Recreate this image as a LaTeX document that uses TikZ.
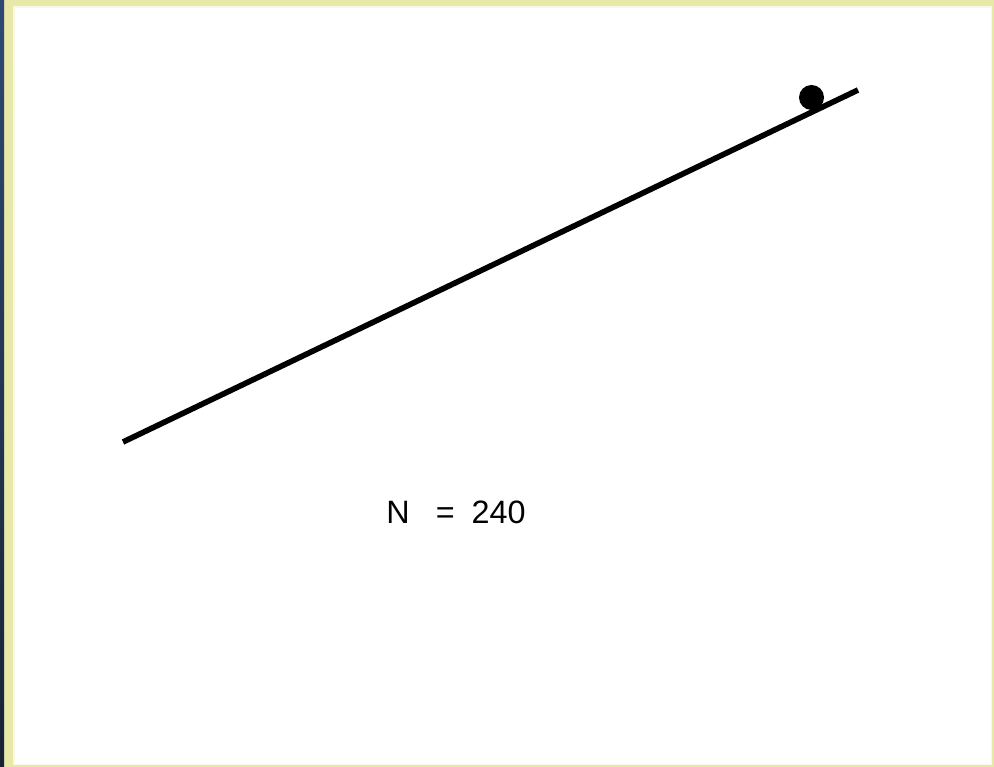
\documentclass[tikz,border=0pt]{standalone}
\usepackage{fontspec}
\setmainfont{Liberation Sans}
\usetikzlibrary{positioning}
\definecolor{frameyellow}{HTML}{E8E8A8}
\definecolor{stripblue}{HTML}{2E4A72}
\definecolor{stripdark}{HTML}{172236}

\begin{document}
\begin{tikzpicture}[x=0.01cm, y=-0.01cm,
        rail/.style={line width=1.6pt, black},
        ball/.style={circle, fill=black, inner sep=0pt, minimum size=0.25cm}]
        \useasboundingbox (0,0) rectangle (994,767);
        \fill[frameyellow] (0,0) rectangle (994,767);
        \shade[top color=stripblue, bottom color=stripdark] (0,0) rectangle (4,767);
        \fill[white!70!frameyellow] (13,6) rectangle (992,765);
        \fill[white] (15,8) rectangle (991,764);
        \coordinate (low) at (123,442);
        \coordinate (high) at (858,90);
        \draw[rail] (low) -- (high);
        \node[ball] (mass) at (811.5,97.5) {};
        \node[font=\fontsize{9.2pt}{11pt}\selectfont] (count) at (456,512) {N\hspace{7.4pt}=\hspace{4.8pt}240};
    \end{tikzpicture}
\end{document}
